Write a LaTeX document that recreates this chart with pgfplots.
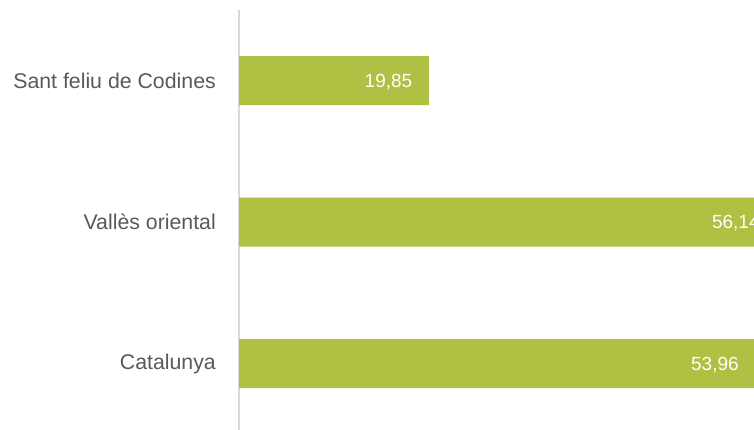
\documentclass[border=0pt]{standalone}
\usepackage{pgfplots}
\pgfplotsset{compat=1.18}
\usepackage{fontspec}
\setmainfont{Liberation Sans}
\definecolor{barc}{HTML}{B0C042}
\definecolor{txt}{HTML}{595959}
\definecolor{axl}{HTML}{D9D9D9}
\begin{document}
\begin{tikzpicture}
\path[use as bounding box, clip] (0pt,0pt) rectangle (754pt,430pt);
\begin{axis}[
  at={(239pt,-4.5pt)}, anchor=south west,
  scale only axis,
  width=516.8pt, height=424.5pt,
  xmin=0, xmax=54, ymin=-0.5, ymax=2.5,
  hide x axis,
  axis y line*=left,
  y axis line style={color=axl, line width=1.8pt},
  ytick={0,1,2},
  yticklabels={Catalunya, Vallès oriental, Sant feliu de Codines},
  major tick length=0pt,
  yticklabel style={font=\fontsize{21.3}{25}\selectfont, text=txt, inner sep=0pt, xshift=-23pt, anchor=east},
  xbar, bar width=49pt,
  /pgf/number format/assume math mode=true,
  nodes near coords,
  nodes near coords style={font=\fontsize{19}{22}\selectfont, text=white, anchor=east, inner sep=0pt, xshift=-16.5pt, yshift=-1pt,
    /pgf/number format/.cd, use comma, fixed, precision=2, fixed zerofill},
  clip=false,
]
\addplot[draw=none, fill=barc] coordinates {(53.96,0) (56.14,1) (19.85,2)};
\end{axis}
\end{tikzpicture}
\end{document}
